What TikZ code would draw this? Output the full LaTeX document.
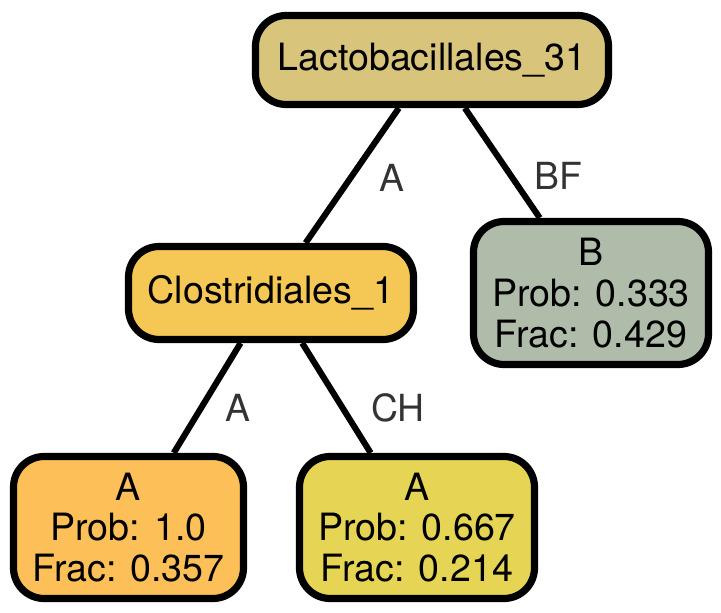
\documentclass[tikz,border=0pt]{standalone}
\usepackage{fontspec}
\setmainfont{TeX Gyre Heros}
\definecolor{rootc}{HTML}{D8C47A}
\definecolor{closc}{HTML}{F5C855}
\definecolor{leafa}{HTML}{FDBF57}
\definecolor{leafb}{HTML}{E6D455}
\definecolor{bc}{HTML}{AFBCA9}
\definecolor{lbl}{HTML}{333333}
\tikzset{
  box/.style={draw=black, line width=5.4pt, rounded corners=23pt, align=center,
    inner sep=0pt, font=\fontsize{28.2pt}{30.5pt}\selectfont},
  conn/.style={line width=4.6pt, black},
  elabel/.style={font=\fontsize{28pt}{30pt}\selectfont, text=lbl}
}
\begin{document}
\begin{tikzpicture}[x=0.75pt,y=-0.75pt]
\useasboundingbox (0,0) rectangle (721,613);
\node[box, fill=rootc, minimum width={353*0.75pt}, minimum height={89*0.75pt}] (root) at (432,60) {Lactobacillales\_31};
\node[box, fill=closc, minimum width={285*0.75pt}, minimum height={93*0.75pt}] (clos) at (271,293) {Clostridiales\_1};
\node[box, fill=bc, minimum width={235*0.75pt}, minimum height={143*0.75pt}] (b) at (591,293) {B\\Prob: 0.333\\Frac: 0.429};
\node[box, fill=leafa, minimum width={230*0.75pt}, minimum height={142*0.75pt}] (la) at (128.5,527.5) {A\\Prob: 1.0\\Frac: 0.357};
\node[box, fill=leafb, minimum width={235*0.75pt}, minimum height={142*0.75pt}] (lb) at (417,527.5) {A\\Prob: 0.667\\Frac: 0.214};
\draw[conn] (root) -- (clos);
\draw[conn] (root) -- (b);
\draw[conn] (clos) -- (la);
\draw[conn] (clos) -- (lb);
\node[elabel] (l1) at (392,178) {A};
\node[elabel] (l2) at (558,176) {BF};
\node[elabel] (l3) at (238,408) {A};
\node[elabel] (l4) at (398,408) {CH};
\end{tikzpicture}
\end{document}
